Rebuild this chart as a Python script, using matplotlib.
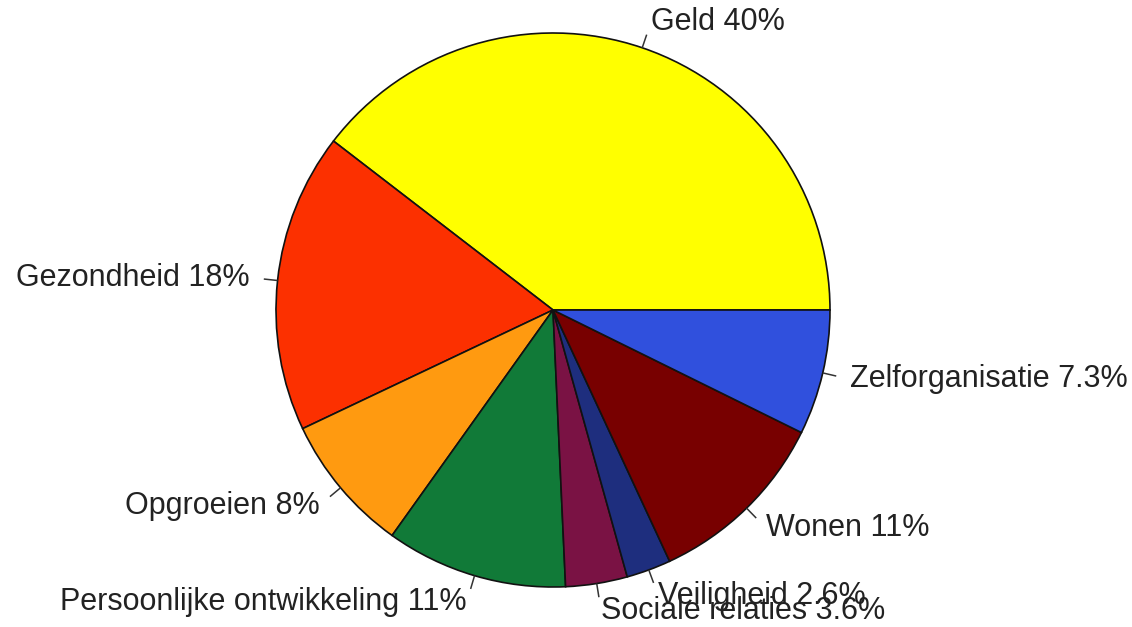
import numpy as np
import matplotlib
matplotlib.use("Agg")
import matplotlib.pyplot as plt

categories = ["Geld", "Gezondheid", "Opgroeien", "Persoonlijke ontwikkeling",
              "Sociale relaties", "Veiligheid", "Wonen", "Zelforganisatie"]
values = [39.6, 17.5, 8.1, 10.6, 3.6, 2.6, 10.8, 7.3]
pct_labels = ["40%", "18%", "8%", "11%", "3.6%", "2.6%", "11%", "7.3%"]
colors = ["#FFFF00", "#FC3000", "#FF9A10", "#117A38", "#7A1244", "#1E2E7E",
          "#780000", "#3050DD"]

W, H = 1132, 627
R = 277.0
cx, cy = 553.0, 310.0
fig = plt.figure(figsize=(W / 100, H / 100), dpi=100)
ax = fig.add_axes([0, 0, 1, 1])

wedges, _ = ax.pie(values, colors=colors, startangle=0, counterclock=True,
                   radius=1.0, center=(0, 0), frame=True,
                   wedgeprops=dict(edgecolor="#111111", linewidth=1.2))
ax.set_xlim(-cx / R, (W - cx) / R)
ax.set_ylim(-(H - cy) / R, cy / R)
ax.set_aspect("auto")
ax.axis("off")

for w, cat, p in zip(wedges, categories, pct_labels):
    mid = np.deg2rad(0.5 * (w.theta1 + w.theta2))
    x, y = np.cos(mid), np.sin(mid)
    ax.plot([x, 1.05 * x], [y, 1.05 * y], color="#333333", lw=1.1,
            solid_capstyle="butt")
    ax.text(1.1 * x, 1.1 * y, f"{cat} {p}", ha="left" if x >= 0 else "right",
            va="center", fontsize=22, family="Liberation Sans", color="#222222")

fig.savefig("out.png", dpi=100)
